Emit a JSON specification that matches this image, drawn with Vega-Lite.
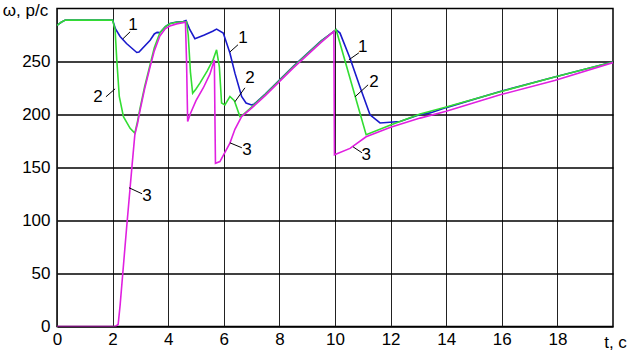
{
  "$schema": "https://vega.github.io/schema/vega-lite/v6.json",
  "width": 556,
  "height": 318,
  "autosize": "none",
  "padding": {"left": 57, "top": 8.5, "right": 19, "bottom": 26.5},
  "background": "white",
  "config": {"view": {"stroke": "#000", "strokeWidth": 1.5}, "font": "Liberation Sans"},
  "datasets": {
    "curves": [
      {"s": "1", "t": 0, "w": 284}, {"s": "1", "t": 0.15, "w": 287}, {"s": "1", "t": 0.3, "w": 289}, {"s": "1", "t": 2.0, "w": 289},
      {"s": "1", "t": 2.1, "w": 281}, {"s": "1", "t": 2.27, "w": 273.6}, {"s": "1", "t": 2.5, "w": 267}, {"s": "1", "t": 2.87, "w": 258.5},
      {"s": "1", "t": 2.95, "w": 259}, {"s": "1", "t": 3.35, "w": 270}, {"s": "1", "t": 3.5, "w": 276}, {"s": "1", "t": 3.6, "w": 277.5},
      {"s": "1", "t": 3.7, "w": 277.2}, {"s": "1", "t": 3.9, "w": 283}, {"s": "1", "t": 4.06, "w": 285.8}, {"s": "1", "t": 4.3, "w": 287.2},
      {"s": "1", "t": 4.54, "w": 287.8}, {"s": "1", "t": 4.64, "w": 288.7}, {"s": "1", "t": 4.78, "w": 280},
      {"s": "1", "t": 4.96, "w": 271.5}, {"s": "1", "t": 5.3, "w": 275}, {"s": "1", "t": 5.6, "w": 278.5}, {"s": "1", "t": 5.74, "w": 280.5},
      {"s": "1", "t": 5.98, "w": 276.8}, {"s": "1", "t": 6.22, "w": 258}, {"s": "1", "t": 6.4, "w": 239}, {"s": "1", "t": 6.64, "w": 217},
      {"s": "1", "t": 6.8, "w": 210.8}, {"s": "1", "t": 7.0, "w": 209}, {"s": "1", "t": 7.1, "w": 210}, {"s": "1", "t": 7.5, "w": 219.5},
      {"s": "1", "t": 8, "w": 232.5}, {"s": "1", "t": 8.5, "w": 245.5}, {"s": "1", "t": 9, "w": 257.5}, {"s": "1", "t": 9.5, "w": 269.5},
      {"s": "1", "t": 10.04, "w": 280}, {"s": "1", "t": 10.18, "w": 276.8}, {"s": "1", "t": 10.54, "w": 253}, {"s": "1", "t": 10.9, "w": 226},
      {"s": "1", "t": 11.26, "w": 199.7}, {"s": "1", "t": 11.62, "w": 192}, {"s": "1", "t": 12.34, "w": 193.4}, {"s": "1", "t": 13.06, "w": 200},
      {"s": "1", "t": 13.42, "w": 201.5}, {"s": "1", "t": 14, "w": 206.5}, {"s": "1", "t": 15.94, "w": 221.7}, {"s": "1", "t": 17.9, "w": 235.3},
      {"s": "1", "t": 20, "w": 249.5},

      {"s": "2", "t": 0, "w": 284}, {"s": "2", "t": 0.15, "w": 287}, {"s": "2", "t": 0.3, "w": 289}, {"s": "2", "t": 2.0, "w": 289},
      {"s": "2", "t": 2.09, "w": 280}, {"s": "2", "t": 2.15, "w": 251.6}, {"s": "2", "t": 2.24, "w": 217}, {"s": "2", "t": 2.39, "w": 198},
      {"s": "2", "t": 2.63, "w": 187}, {"s": "2", "t": 2.8, "w": 182.4}, {"s": "2", "t": 2.9, "w": 194}, {"s": "2", "t": 2.98, "w": 205},
      {"s": "2", "t": 3.15, "w": 226}, {"s": "2", "t": 3.34, "w": 246}, {"s": "2", "t": 3.5, "w": 263}, {"s": "2", "t": 3.7, "w": 277},
      {"s": "2", "t": 3.9, "w": 283}, {"s": "2", "t": 4.06, "w": 285.6}, {"s": "2", "t": 4.3, "w": 287}, {"s": "2", "t": 4.6, "w": 287.5},
      {"s": "2", "t": 4.66, "w": 287.5}, {"s": "2", "t": 4.72, "w": 275}, {"s": "2", "t": 4.8, "w": 240}, {"s": "2", "t": 4.88, "w": 220},
      {"s": "2", "t": 5.0, "w": 224}, {"s": "2", "t": 5.14, "w": 229.6}, {"s": "2", "t": 5.4, "w": 241}, {"s": "2", "t": 5.62, "w": 252},
      {"s": "2", "t": 5.74, "w": 261}, {"s": "2", "t": 5.84, "w": 245}, {"s": "2", "t": 5.92, "w": 210.8}, {"s": "2", "t": 6.04, "w": 209},
      {"s": "2", "t": 6.22, "w": 217}, {"s": "2", "t": 6.38, "w": 213}, {"s": "2", "t": 6.58, "w": 198}, {"s": "2", "t": 6.7, "w": 200},
      {"s": "2", "t": 7, "w": 207}, {"s": "2", "t": 7.5, "w": 219}, {"s": "2", "t": 8, "w": 232}, {"s": "2", "t": 8.5, "w": 245},
      {"s": "2", "t": 9, "w": 257}, {"s": "2", "t": 9.5, "w": 269}, {"s": "2", "t": 10.04, "w": 280}, {"s": "2", "t": 11.12, "w": 181},
      {"s": "2", "t": 12, "w": 190}, {"s": "2", "t": 13.06, "w": 200.5}, {"s": "2", "t": 14, "w": 207}, {"s": "2", "t": 15.94, "w": 221.5},
      {"s": "2", "t": 17.9, "w": 235.3}, {"s": "2", "t": 20, "w": 249.5},

      {"s": "3", "t": 0, "w": 0}, {"s": "3", "t": 2.1, "w": 0}, {"s": "3", "t": 2.2, "w": 2}, {"s": "3", "t": 2.27, "w": 20},
      {"s": "3", "t": 2.5, "w": 92}, {"s": "3", "t": 2.7, "w": 152}, {"s": "3", "t": 2.8, "w": 181}, {"s": "3", "t": 2.9, "w": 192},
      {"s": "3", "t": 2.98, "w": 203}, {"s": "3", "t": 3.15, "w": 224}, {"s": "3", "t": 3.34, "w": 244}, {"s": "3", "t": 3.5, "w": 260},
      {"s": "3", "t": 3.7, "w": 274}, {"s": "3", "t": 3.9, "w": 281}, {"s": "3", "t": 4.06, "w": 283.5}, {"s": "3", "t": 4.3, "w": 285.5},
      {"s": "3", "t": 4.62, "w": 287}, {"s": "3", "t": 4.66, "w": 250}, {"s": "3", "t": 4.7, "w": 193.4}, {"s": "3", "t": 4.8, "w": 201},
      {"s": "3", "t": 5.0, "w": 213}, {"s": "3", "t": 5.26, "w": 225}, {"s": "3", "t": 5.5, "w": 238}, {"s": "3", "t": 5.66, "w": 251.5},
      {"s": "3", "t": 5.68, "w": 200}, {"s": "3", "t": 5.7, "w": 154}, {"s": "3", "t": 5.86, "w": 155.6}, {"s": "3", "t": 6.22, "w": 173},
      {"s": "3", "t": 6.4, "w": 186}, {"s": "3", "t": 6.64, "w": 198}, {"s": "3", "t": 7, "w": 206}, {"s": "3", "t": 7.5, "w": 218},
      {"s": "3", "t": 8, "w": 231}, {"s": "3", "t": 8.5, "w": 244}, {"s": "3", "t": 9, "w": 256}, {"s": "3", "t": 9.5, "w": 268},
      {"s": "3", "t": 9.96, "w": 278.5}, {"s": "3", "t": 9.98, "w": 162}, {"s": "3", "t": 10.54, "w": 168}, {"s": "3", "t": 11.12, "w": 179},
      {"s": "3", "t": 12, "w": 188}, {"s": "3", "t": 13.06, "w": 196.6}, {"s": "3", "t": 14, "w": 203}, {"s": "3", "t": 15.94, "w": 218.6},
      {"s": "3", "t": 17.9, "w": 232}, {"s": "3", "t": 20, "w": 249}
    ],
    "labels": [
      {"t": 2.73, "w": 284.6, "label": "1"}, {"t": 6.69, "w": 272.4, "label": "1"}, {"t": 11.0, "w": 263.9, "label": "1"},
      {"t": 1.47, "w": 216.7, "label": "2"}, {"t": 6.94, "w": 234.6, "label": "2"}, {"t": 11.4, "w": 230.8, "label": "2"},
      {"t": 3.24, "w": 123.3, "label": "3"}, {"t": 6.83, "w": 166.7, "label": "3"}, {"t": 11.12, "w": 162, "label": "3"}
    ],
    "leaders": [
      {"t": 2.37, "w": 271.4, "t2": 2.63, "w2": 278}, {"t": 6.22, "w": 259, "t2": 6.51, "w2": 265.8}, {"t": 10.5, "w": 251.6, "t2": 10.86, "w2": 258.2},
      {"t": 1.76, "w": 216.7, "t2": 2.09, "w2": 224.2}, {"t": 6.4, "w": 212, "t2": 6.76, "w2": 225.2}, {"t": 10.72, "w": 216.7, "t2": 11.19, "w2": 228},
      {"t": 2.59, "w": 130.9, "t2": 3.06, "w2": 125.2}, {"t": 6.22, "w": 173.3, "t2": 6.65, "w2": 168.6}, {"t": 10.65, "w": 169.5, "t2": 10.97, "w2": 163.9}
    ]
  },
  "layer": [
    {
      "data": {"name": "curves"},
      "transform": [{"filter": "datum.s == '1'"}],
      "mark": {"type": "line", "strokeWidth": 1.6, "color": "#1a1acc", "clip": true},
      "encoding": {
        "x": {"field": "t", "type": "quantitative", "scale": {"domain": [0, 20], "nice": false},
          "axis": {"values": [0, 2, 4, 6, 8, 10, 12, 14, 16, 18], "title": "t, c", "titleX": 558, "titleY": 21,
            "titleBaseline": "alphabetic", "titleAlign": "center", "titleFontSize": 17, "titleFontWeight": "normal",
            "titleColor": "#000", "labelFontSize": 17, "labelColor": "#000", "labelPadding": 5, "tickSize": 0,
            "domain": false, "grid": true, "gridColor": "#222", "gridWidth": 1, "gridOpacity": 1, "labelFlush": false, "labelOverlap": false}},
        "y": {"field": "w", "type": "quantitative", "scale": {"domain": [0, 300], "nice": false},
          "axis": {"values": [0, 50, 100, 150, 200, 250], "title": "ω, p/c", "titleAngle": 0, "titleX": -32, "titleY": 6.5,
            "titleBaseline": "alphabetic", "titleAlign": "center", "titleFontSize": 17, "titleFontWeight": "normal",
            "titleColor": "#000", "labelFontSize": 17, "labelColor": "#000", "labelPadding": 7, "tickSize": 0,
            "domain": false, "grid": true, "gridColor": "#000", "gridWidth": 1.6, "gridOpacity": 1, "labelOverlap": false}}
      }
    },
    {
      "data": {"name": "curves"},
      "transform": [{"filter": "datum.s == '2'"}],
      "mark": {"type": "line", "strokeWidth": 1.6, "color": "#33dd33", "clip": true},
      "encoding": {"x": {"field": "t", "type": "quantitative"}, "y": {"field": "w", "type": "quantitative"}}
    },
    {
      "data": {"name": "curves"},
      "transform": [{"filter": "datum.s == '3'"}],
      "mark": {"type": "line", "strokeWidth": 1.6, "color": "#e020e0", "clip": true},
      "encoding": {"x": {"field": "t", "type": "quantitative"}, "y": {"field": "w", "type": "quantitative"}}
    },
    {
      "data": {"name": "leaders"},
      "mark": {"type": "rule", "color": "#000", "strokeWidth": 1},
      "encoding": {"x": {"field": "t", "type": "quantitative"}, "y": {"field": "w", "type": "quantitative"},
        "x2": {"field": "t2"}, "y2": {"field": "w2"}}
    },
    {
      "data": {"name": "labels"},
      "mark": {"type": "text", "fontSize": 17, "color": "#000", "align": "center", "baseline": "middle"},
      "encoding": {"x": {"field": "t", "type": "quantitative"}, "y": {"field": "w", "type": "quantitative"},
        "text": {"field": "label"}}
    }
  ]
}
